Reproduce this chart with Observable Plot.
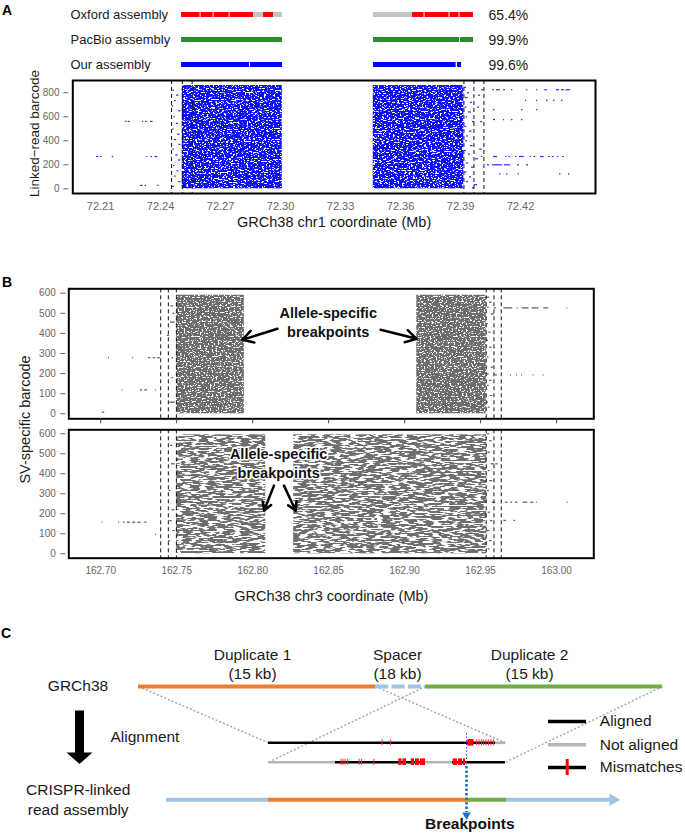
<!DOCTYPE html>
<html><head><meta charset="utf-8">
<script src="https://cdn.jsdelivr.net/npm/d3@7"></script>
<script src="https://cdn.jsdelivr.net/npm/@observablehq/plot@0.6"></script>
<style>
body{margin:0;background:#fff;font-family:"Liberation Sans",Arial,sans-serif;}
#wrap{position:relative;width:685px;height:836px;overflow:hidden;background:#fff;}
.layer{position:absolute;left:0;}
.panel{position:absolute;font-weight:bold;font-size:14px;line-height:14px;color:#000;}
</style></head><body>
<svg width="0" height="0" style="position:absolute">
<defs>
 <filter id="speckBlue" x="0" y="0" width="100%" height="100%">
  <feTurbulence type="fractalNoise" baseFrequency="0.45 0.9" numOctaves="2" seed="3" result="n"/>
  <feColorMatrix in="n" type="matrix" values="0 0 0 0 0  0 0 0 0 0  0 0 0 0 0  0 0 0 -14 8.9" result="m"/>
  <feComposite in="SourceGraphic" in2="m" operator="in"/>
 </filter>
 <filter id="speckGray" x="0" y="0" width="100%" height="100%">
  <feTurbulence type="fractalNoise" baseFrequency="0.5 0.8" numOctaves="2" seed="7" result="n"/>
  <feColorMatrix in="n" type="matrix" values="0 0 0 0 0  0 0 0 0 0  0 0 0 0 0  0 0 0 -14 9.0" result="m"/>
  <feComposite in="SourceGraphic" in2="m" operator="in"/>
 </filter>
 <filter id="streakGray" x="0" y="0" width="100%" height="100%">
  <feTurbulence type="fractalNoise" baseFrequency="0.12 0.6" numOctaves="2" seed="11" result="n"/>
  <feColorMatrix in="n" type="matrix" values="0 0 0 0 0  0 0 0 0 0  0 0 0 0 0  0 0 0 -14 7.9" result="m"/>
  <feComposite in="SourceGraphic" in2="m" operator="in"/>
 </filter>
 <pattern id="texBlue" patternUnits="userSpaceOnUse" width="700" height="200">
  <rect width="700" height="200" fill="#0a0aff" filter="url(#speckBlue)"/>
 </pattern>
 <pattern id="texGrayTop" patternUnits="userSpaceOnUse" width="700" height="200">
  <rect width="700" height="200" fill="#6c6c6c" filter="url(#speckGray)"/>
 </pattern>
 <pattern id="texGrayBottom" patternUnits="userSpaceOnUse" width="700" height="200">
  <rect width="700" height="200" fill="#6e6e6e" filter="url(#streakGray)"/>
 </pattern>
</defs></svg>
<div id="wrap">
 <div class="panel" style="left:2px;top:3px">A</div>
 <div class="panel" style="left:2px;top:275px">B</div>
 <div class="panel" style="left:1px;top:626px">C</div>
</div>
<script>
// ---------------- Panel A data ----------------
const assemblies = ["Oxford assembly", "PacBio assembly", "Our assembly"];
const identityPct = ["65.4%", "99.9%", "99.6%"];
// [assembly, start Mb, end Mb, status]
const assemblyBlocks = [
  ["Oxford assembly", 72.2505, 72.25975, "Oxford"],
  ["Oxford assembly", 72.26025, 72.26625, "Oxford"],
  ["Oxford assembly", 72.26675, 72.27425, "Oxford"],
  ["Oxford assembly", 72.27475, 72.2865, "Oxford"],
  ["Oxford assembly", 72.2865, 72.2915, "Unaligned"],
  ["Oxford assembly", 72.2915, 72.2965, "Oxford"],
  ["Oxford assembly", 72.2965, 72.301, "Unaligned"],
  ["Oxford assembly", 72.3465, 72.366, "Unaligned"],
  ["Oxford assembly", 72.366, 72.37175, "Oxford"],
  ["Oxford assembly", 72.37225, 72.38425, "Oxford"],
  ["Oxford assembly", 72.38475, 72.38925, "Oxford"],
  ["Oxford assembly", 72.38975, 72.3965, "Oxford"],
  ["PacBio assembly", 72.2505, 72.301, "PacBio"],
  ["PacBio assembly", 72.3465, 72.3895, "PacBio"],
  ["PacBio assembly", 72.3900, 72.3965, "PacBio"],
  ["Our assembly", 72.2505, 72.2845, "Ours"],
  ["Our assembly", 72.2850, 72.301, "Ours"],
  ["Our assembly", 72.3465, 72.3878, "Ours"],
  ["Our assembly", 72.3885, 72.3905, "Ours"]
];
const xTicksA = [72.21, 72.24, 72.27, 72.30, 72.33, 72.36, 72.39, 72.42];
const yTicksA = [0, 200, 400, 600, 800];
const dashedA = [72.2455, 72.2509, 72.2558, 72.3917, 72.3967, 72.4017];
// dense read clouds: [start, end, top barcode]
const denseA = [[72.25085, 72.30085, 860], [72.34635, 72.39165, 860]];
// sparse linked reads: [start, end, barcode]
const readsA = [
  [72.2080,72.2092,269],[72.2100,72.2108,269],[72.2158,72.2165,269],[72.2330,72.2336,269],[72.2352,72.2360,269],[72.2372,72.2385,269],
  [72.2225,72.2232,561],[72.2238,72.2248,561],[72.2310,72.2316,561],[72.2325,72.2333,561],[72.2350,72.2362,561],
  [72.2300,72.2312,28],[72.2322,72.2330,28],[72.2385,72.2392,28],
  [72.2462,72.2470,822],[72.2480,72.2492,780],[72.2470,72.2478,735],[72.2458,72.2466,690],[72.2490,72.2502,650],
  [72.2466,72.2474,600],[72.2478,72.2490,545],[72.2460,72.2467,500],[72.2485,72.2497,455],[72.2470,72.2480,410],
  [72.2492,72.2502,370],[72.2462,72.2470,330],[72.2476,72.2488,282],[72.2490,72.2502,240],[72.2464,72.2472,195],
  [72.2482,72.2492,150],[72.2470,72.2478,105],[72.2490,72.2502,60],[72.2460,72.2470,20],
  [72.3920,72.3930,845],[72.3935,72.3945,800],[72.3925,72.3938,760],[72.3950,72.3960,720],[72.3922,72.3932,680],
  [72.3940,72.3955,640],[72.3928,72.3936,600],[72.3960,72.3972,560],[72.3921,72.3931,520],[72.3945,72.3957,480],
  [72.3930,72.3940,440],[72.3925,72.3935,400],[72.3950,72.3962,360],[72.3922,72.3930,320],[72.3940,72.3950,290],
  [72.3975,72.3990,250],[72.3928,72.3940,215],[72.3955,72.3968,180],[72.3922,72.3932,140],[72.3945,72.3955,100],
  [72.3930,72.3940,60],[72.3970,72.3985,35],[72.3960,72.3970,10],[72.3985,72.3995,680],[72.3990,72.4000,780],
  [72.3995,72.4008,330],[72.4000,72.4010,560],[72.4005,72.4015,825],[72.4005,72.4012,269],
  [72.4062,72.4070,825],[72.4080,72.4100,825],[72.4115,72.4125,825],[72.4155,72.4162,825],[72.4230,72.4237,825],
  [72.4280,72.4287,825],[72.4322,72.4335,825],[72.4380,72.4395,825],[72.4405,72.4420,825],[72.4428,72.4450,825],
  [72.4225,72.4231,737],[72.4280,72.4286,737],[72.4330,72.4337,737],[72.4365,72.4372,737],[72.4405,72.4412,737],
  [72.4065,72.4072,660],[72.4205,72.4212,660],[72.4280,72.4287,660],
  [72.4065,72.4075,577],[72.4115,72.4120,577],[72.4155,72.4162,577],[72.4205,72.4212,577],
  [72.4065,72.4085,269],[72.4125,72.4132,269],[72.4142,72.4150,269],[72.4175,72.4182,269],[72.4195,72.4218,269],
  [72.4250,72.4256,269],[72.4268,72.4276,269],[72.4300,72.4318,269],[72.4340,72.4348,269],[72.4360,72.4368,269],
  [72.4385,72.4392,269],[72.4410,72.4418,269],
  [72.4035,72.4045,200],[72.4060,72.4110,200],[72.4120,72.4150,200],[72.4185,72.4195,200],[72.4230,72.4240,200],
  [72.4095,72.4102,125],[72.4130,72.4137,125],[72.4188,72.4195,125],[72.4395,72.4402,125],[72.4440,72.4447,125]
];

// ---------------- Panel B data ----------------
const xTicksB = [162.70, 162.75, 162.80, 162.85, 162.90, 162.95, 163.00];
const yTicksB = [0, 100, 200, 300, 400, 500, 600];
const dashedB = [162.7395, 162.7445, 162.7498, 162.9537, 162.9588, 162.9636];
const denseBTop = [[162.7500, 162.7945, 590], [162.9080, 162.9537, 590]];
const denseBBottom = [[162.7500, 162.8086, 595], [162.8270, 162.9540, 595]];
const readsBTop = [
  [162.7052,162.7058,279],[162.7210,162.7217,279],[162.7315,162.7330,279],[162.7345,162.7360,279],[162.7375,162.7392,279],
  [162.7140,162.7146,119],[162.7262,162.7275,119],[162.7290,162.7307,119],[162.7360,162.7366,119],
  [162.7010,162.7026,8],
  [162.7462,162.7480,537],[162.7460,162.7490,456],[162.7470,162.7480,279],[162.7455,162.7490,58],[162.7475,162.7488,500],
  [162.7440,162.7452,390],[162.7468,162.7478,180],
  [162.9540,162.9560,580],[162.9560,162.9575,555],[162.9545,162.9556,530],[162.9570,162.9590,497],[162.9542,162.9552,448],
  [162.9555,162.9570,406],[162.9540,162.9552,365],[162.9560,162.9575,331],[162.9545,162.9555,282],[162.9570,162.9585,232],
  [162.9542,162.9556,199],[162.9560,162.9575,166],[162.9545,162.9557,141],[162.9565,162.9580,91],[162.9542,162.9552,58],
  [162.9550,162.9562,33],[162.9590,162.9605,527],[162.9595,162.9610,194],
  [162.9653,162.9711,527],[162.9741,162.9747,527],[162.9774,162.9818,527],[162.9840,162.9884,527],[162.9916,162.9949,527],[163.0068,163.0074,527],
  [162.9697,162.9703,194],[162.9737,162.9743,194],[162.9770,162.9776,194],[162.9845,162.9851,194],[162.9912,162.9918,194]
];
const readsBBottom = [
  [162.7008,162.7014,158],[162.7118,162.7125,158],[162.7150,162.7160,158],[162.7175,162.7195,158],[162.7210,162.7230,158],
  [162.7245,162.7265,158],[162.7290,162.7305,158],[162.7360,162.7366,97],
  [162.7460,162.7475,542],[162.7465,162.7490,450],[162.7450,162.7462,317],[162.7470,162.7488,220],[162.7455,162.7470,166],
  [162.7475,162.7490,116],[162.7448,162.7460,66],
  [162.9545,162.9560,600],[162.9560,162.9575,566],[162.9548,162.9565,508],[162.9570,162.9590,450],[162.9550,162.9562,416],
  [162.9560,162.9580,366],[162.9545,162.9558,316],[162.9575,162.9600,258],[162.9550,162.9565,208],[162.9565,162.9580,166],
  [162.9545,162.9560,116],[162.9560,162.9575,66],[162.9550,162.9562,25],[162.9600,162.9615,450],
  [162.9664,162.9680,258],[162.9700,162.9710,258],[162.9730,162.9745,258],[162.9780,162.9810,258],[162.9830,162.9850,258],
  [162.9870,162.9875,258],[163.0070,163.0076,258],
  [162.9653,162.9670,167],[162.9720,162.9730,167]
];
const annotText = "Allele-specific\nbreakpoints";
const annotTop = [{x: 162.8497, y: 459}];
const annotBottom = [{x: 162.8171, y: 456}];
// arrows: [x1, y1, x2, y2] in (Mb, barcode)
const arrowsTop = [[162.8163, 423, 162.7932, 368], [162.8842, 418, 162.9079, 373]];
const arrowsBottom = [[162.8140, 341, 162.8075, 216], [162.8206, 341, 162.8283, 216]];

// ---------------- Panel C data (schematic units) ----------------
const rowY = {ref: 66, aln1: 122.3, aln2: 141.7, asm: 179.3};
const refSegments = [
  {start: 138, end: 375, part: "Duplicate 1"},
  {start: 375, end: 425, part: "Spacer"},
  {start: 425, end: 662, part: "Duplicate 2"}
];
const refLabels = [
  {x: 252, text: "Duplicate 1\n(15 kb)"},
  {x: 397, text: "Spacer\n(18 kb)"},
  {x: 529, text: "Duplicate 2\n(15 kb)"}
];
const alnSegments = [
  {row: "aln1", start: 268, end: 495, state: "Aligned"},
  {row: "aln1", start: 495, end: 505, state: "Not aligned"},
  {row: "aln2", start: 268, end: 335, state: "Not aligned"},
  {row: "aln2", start: 335, end: 425, state: "Aligned"},
  {row: "aln2", start: 425, end: 452, state: "Not aligned"},
  {row: "aln2", start: 452, end: 505, state: "Aligned"}
];
const mismatchSites = [
  {row: "aln1", pos: 381.7}, {row: "aln1", pos: 390},
  {row: "aln1", pos: 476}, {row: "aln1", pos: 478.5}, {row: "aln1", pos: 481}, {row: "aln1", pos: 483},
  {row: "aln1", pos: 485.5}, {row: "aln1", pos: 488}, {row: "aln1", pos: 490.5}, {row: "aln1", pos: 493},
  {row: "aln2", pos: 340.5}, {row: "aln2", pos: 342.5}, {row: "aln2", pos: 344.5}, {row: "aln2", pos: 347},
  {row: "aln2", pos: 358.5}, {row: "aln2", pos: 361}, {row: "aln2", pos: 373.3}
];
const mismatchClusters = [
  {row: "aln1", start: 467.3, end: 473.5},
  {row: "aln2", start: 398.3, end: 401.5}, {row: "aln2", start: 402.5, end: 406},
  {row: "aln2", start: 410.7, end: 414}, {row: "aln2", start: 415, end: 419}, {row: "aln2", start: 420, end: 425},
  {row: "aln2", start: 452.7, end: 457}, {row: "aln2", start: 458, end: 462}, {row: "aln2", start: 462.8, end: 465}
];
const asmSegments = [
  {start: 166, end: 268, part: "Flank"},
  {start: 268, end: 467, part: "Duplicate 1"},
  {start: 467, end: 506, part: "Duplicate 2"},
  {start: 506, end: 611, part: "Flank"}
];
const asmArrowHead = [{x: 612.5, part: "Flank"}];
const projections = [
  {x1: 138, y1: 66, x2: 268, y2: 122.3},
  {x1: 375, y1: 66, x2: 505, y2: 122.3},
  {x1: 425, y1: 66, x2: 268, y2: 141.7},
  {x1: 662, y1: 66, x2: 505, y2: 141.7}
];
const breakpointX = [466];
const alignArrow = [[74.5, 90], [83.5, 90], [83.5, 132], [92, 132], [79, 143.5], [66, 132], [74.5, 132]];
const legendItems = [
  {label: "Aligned", y: 101, state: "Aligned"},
  {label: "Not aligned", y: 124.3, state: "Not aligned"},
  {label: "Mismatches", y: 147, state: "Aligned"}
];
const centeredLabels = [
  {x: 77.5, y: 64, text: "GRCh38"},
  {x: 77.7, y: 178.3, text: "CRISPR-linked\nread assembly"}
];
const stepLabel = [{x: 110, y: 116.7, text: "Alignment"}];

// ---------------- Rendering ----------------
const FONT = "Liberation Sans, Arial, Helvetica, sans-serif";
const wrap = document.getElementById("wrap");
function place(svg, top) {
  const d = document.createElement("div");
  d.className = "layer";
  d.style.top = top + "px";
  d.appendChild(svg);
  wrap.appendChild(d);
}
const baseStyle = {fontFamily: FONT, background: "transparent", overflow: "visible", color: "#000"};

const xDomainA = [72.1961, 72.4575];

// Panel A: assembly bars
place(Plot.plot({
  width: 685, height: 76, marginLeft: 72.3, marginRight: 90, marginTop: 0, marginBottom: 0,
  style: baseStyle,
  x: {domain: xDomainA, axis: null},
  y: {type: "point", domain: assemblies, range: [13, 64.5], padding: 0, axis: null},
  color: {domain: ["Oxford", "Unaligned", "PacBio", "Ours"], range: ["#ff0000", "#c3c3c3", "#2b8c2b", "#0000ff"]},
  marks: [
    Plot.ruleY(assemblyBlocks, {y: d => d[0], x1: d => d[1], x2: d => d[2], stroke: d => d[3], strokeWidth: 5}),
    Plot.text(assemblies, {y: d => d, text: d => d, frameAnchor: "left", textAnchor: "start", lineAnchor: "middle", dx: -2.3, fontSize: 13, fill: "#1a1a1a"}),
    Plot.text(assemblies, {y: d => d, text: (d, i) => identityPct[i], frameAnchor: "right", textAnchor: "start", lineAnchor: "middle", dx: -107, dy: 1.5, fontSize: 14, fill: "#1a1a1a"})
  ]
}), 0);

// Panel A: linked-read scatter
place(Plot.plot({
  width: 685, height: 156, marginLeft: 72.3, marginRight: 90, marginTop: 4, marginBottom: 39,
  style: baseStyle,
  x: {domain: xDomainA, label: null},
  y: {domain: [-39, 902], label: null},
  marks: [
    Plot.rect(denseA, {x1: d => d[0], x2: d => d[1], y1: 0, y2: d => d[2], fill: "url(#texBlue)"}),
    Plot.ruleY(readsA, {x1: d => d[0], x2: d => d[1], y: d => d[2], stroke: "#2a2aff", strokeWidth: 1.2}),
    Plot.ruleX(dashedA, {stroke: "#111", strokeWidth: 1, strokeDasharray: "4,3"}),
    Plot.frame({stroke: "#000", strokeWidth: 2}),
    Plot.axisX({ticks: xTicksA, tickFormat: d3.format(".2f"), tickSize: 0, tickPadding: 9, fontSize: 11, color: "#666", label: null}),
    Plot.axisY({ticks: yTicksA, tickSize: 5, tickPadding: 4.3, dx: -4, fontSize: 10, color: "#666", label: null}),
    Plot.text(["GRCh38 chr1 coordinate (Mb)"], {text: d => d, frameAnchor: "bottom", textAnchor: "middle", lineAnchor: "middle", dy: 29, fontSize: 14.5, fill: "#1a1a1a"}),
    Plot.text(["Linked\u2212read barcode"], {text: d => d, frameAnchor: "left", textAnchor: "middle", lineAnchor: "middle", rotate: -90, dx: -38, dy: -3.5, fontSize: 13.5, fill: "#1a1a1a"})
  ]
}), 76);

const xDomainB = [162.679, 163.0245];

// Panel B: top (allele 1)
place(Plot.plot({
  width: 685, height: 148, marginLeft: 68.3, marginRight: 91.7, marginTop: 8.3, marginBottom: 9.7,
  style: baseStyle,
  x: {domain: xDomainB, label: null},
  y: {domain: [-25, 622], label: null},
  marks: [
    Plot.rect(denseBTop, {x1: d => d[0], x2: d => d[1], y1: 0, y2: d => d[2], fill: "url(#texGrayTop)"}),
    Plot.ruleY(readsBTop, {x1: d => d[0], x2: d => d[1], y: d => d[2], stroke: "#555", strokeWidth: 1.2}),
    Plot.ruleX(dashedB, {stroke: "#111", strokeWidth: 1, strokeDasharray: "4,3"}),
    Plot.frame({stroke: "#000", strokeWidth: 2}),
    Plot.axisX({ticks: xTicksB, tickFormat: () => "", tickSize: 5, color: "#444", label: null}),
    Plot.axisY({ticks: yTicksB, tickSize: 5, tickPadding: 5, dx: -3, fontSize: 10, color: "#666", label: null}),
    Plot.arrow(arrowsTop, {x1: d => d[0], y1: d => d[1], x2: d => d[2], y2: d => d[3], stroke: "#000", strokeWidth: 2.5, headLength: 9}),
    Plot.text(annotTop, {x: "x", y: "y", text: () => annotText, fontSize: 14.5, fontWeight: "bold", lineHeight: 1.26, fill: "#111"})
  ]
}), 280);

// Panel B: bottom (allele 2)
place(Plot.plot({
  width: 685, height: 180, marginLeft: 68.3, marginRight: 91.7, marginTop: 4.3, marginBottom: 47.3,
  style: baseStyle,
  x: {domain: xDomainB, label: null},
  y: {domain: [-22, 620], label: null},
  marks: [
    Plot.rect(denseBBottom, {x1: d => d[0], x2: d => d[1], y1: 0, y2: d => d[2], fill: "url(#texGrayBottom)"}),
    Plot.ruleY(readsBBottom, {x1: d => d[0], x2: d => d[1], y: d => d[2], stroke: "#555", strokeWidth: 1.2}),
    Plot.ruleX(dashedB, {stroke: "#111", strokeWidth: 1, strokeDasharray: "4,3"}),
    Plot.frame({stroke: "#000", strokeWidth: 2}),
    Plot.axisX({ticks: xTicksB, tickFormat: d3.format(".2f"), tickSize: 0, tickPadding: 9, fontSize: 10, color: "#666", label: null}),
    Plot.axisY({ticks: yTicksB, tickSize: 5, tickPadding: 5, dx: -3, fontSize: 10, color: "#666", label: null}),
    Plot.arrow(arrowsBottom, {x1: d => d[0], y1: d => d[1], x2: d => d[2], y2: d => d[3], stroke: "#000", strokeWidth: 2.5, headLength: 9}),
    Plot.text(annotBottom, {x: "x", y: "y", text: () => annotText, fontSize: 14.5, fontWeight: "bold", lineHeight: 1.26, fill: "#111", stroke: "#fff", strokeWidth: 3}),
    Plot.text(["GRCh38 chr3 coordinate (Mb)"], {text: d => d, frameAnchor: "bottom", textAnchor: "middle", lineAnchor: "middle", dy: 38.3, fontSize: 14.5, fill: "#1a1a1a"}),
    Plot.text(["SV-specific barcode"], {text: d => d, frameAnchor: "left", textAnchor: "middle", lineAnchor: "middle", rotate: -90, dx: -43.3, dy: -74.5, fontSize: 14.5, fill: "#1a1a1a"})
  ]
}), 425);

// Panel C: schematic
const partColors = {
  domain: ["Duplicate 1", "Spacer", "Duplicate 2", "Flank", "Aligned", "Not aligned"],
  range: ["#ed7d31", "#9dc3e6", "#70ad47", "#9dc3e6", "#000000", "#b5b5b5"]
};
place(Plot.plot({
  width: 685, height: 216, margin: 0,
  style: baseStyle,
  x: {domain: [0, 685], range: [0, 685], axis: null},
  y: {domain: [0, 216], range: [0, 216], axis: null},
  color: partColors,
  marks: [
    Plot.link(projections, {x1: "x1", y1: "y1", x2: "x2", y2: "y2", stroke: "#a8a8a8", strokeWidth: 1.5, strokeDasharray: "2,2"}),
    Plot.ruleY(refSegments.filter(d => d.part !== "Spacer"), {y: rowY.ref, x1: "start", x2: "end", stroke: "part", strokeWidth: 4}),
    Plot.ruleY(refSegments.filter(d => d.part === "Spacer"), {y: rowY.ref, x1: "start", x2: "end", stroke: "part", strokeWidth: 4, strokeDasharray: "13,3.5"}),
    Plot.text(refLabels, {x: "x", y: 43, text: "text", fontSize: 15.5, lineHeight: 1.25, fill: "#1a1a1a"}),
    Plot.ruleY(alnSegments, {y: d => rowY[d.row], x1: "start", x2: "end", stroke: "state", strokeWidth: 2.6}),
    Plot.ruleX(mismatchSites, {x: "pos", y1: d => rowY[d.row] - 3, y2: d => rowY[d.row] + 3, stroke: "#ff2a2a", strokeWidth: 1.2, strokeOpacity: 0.85}),
    Plot.rect(mismatchClusters, {x1: "start", x2: "end", y1: d => rowY[d.row] - 3.3, y2: d => rowY[d.row] + 3.3, fill: "#ff0000"}),
    Plot.ruleX(breakpointX, {y1: 113, y2: 145, stroke: "#4040ff", strokeWidth: 1, strokeDasharray: "1.5,2"}),
    Plot.ruleY(asmSegments, {y: rowY.asm, x1: "start", x2: "end", stroke: "part", strokeWidth: 4}),
    Plot.dot(asmArrowHead, {x: "x", y: rowY.asm, fill: "part", symbol: "triangle", rotate: 90, r: 4.6}),
    Plot.ruleX(breakpointX, {y1: 146, y2: 192, stroke: "#1f6fc6", strokeWidth: 2.6, strokeDasharray: "2.5,2"}),
    Plot.dot(breakpointX, {x: d => d, y: 194.5, fill: "#1f6fc6", symbol: "triangle", rotate: 180, r: 3.2}),
    Plot.line(alignArrow, {x: d => d[0], y: d => d[1], fill: "#000", stroke: "none", curve: "linear-closed"}),
    Plot.ruleY(legendItems, {y: "y", x1: 548, x2: 586, stroke: "state", strokeWidth: 3.5}),
    Plot.ruleX([566.7], {y1: 139, y2: 155, stroke: "#ff0000", strokeWidth: 3}),
    Plot.text(legendItems, {x: 599.3, y: "y", text: "label", textAnchor: "start", fontSize: 15.5, fill: "#1a1a1a"}),
    Plot.text(centeredLabels, {x: "x", y: "y", text: "text", textAnchor: "middle", fontSize: 15.5, lineHeight: 1.25, fill: "#1a1a1a"}),
    Plot.text(stepLabel, {x: "x", y: "y", text: "text", textAnchor: "start", fontSize: 15.5, fill: "#1a1a1a"}),
    Plot.text(["Breakpoints"], {x: 469.3, y: 204, text: d => d, fontSize: 15.5, fontWeight: "bold", fill: "#111"})
  ]
}), 620);
</script>
</body></html>
